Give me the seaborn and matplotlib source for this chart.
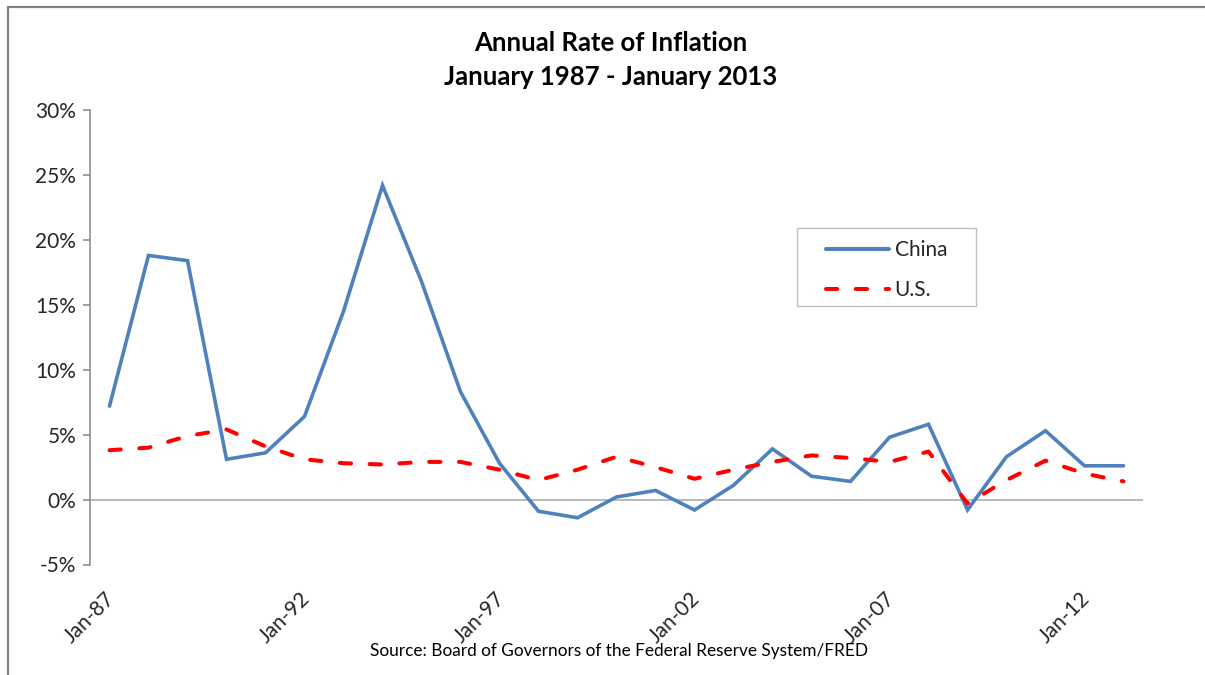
import matplotlib
matplotlib.use("Agg")
import matplotlib.pyplot as plt
import matplotlib.transforms as mtransforms
from matplotlib.lines import Line2D
from matplotlib.patches import Rectangle
import seaborn as sns
import pandas as pd

years = list(range(1987, 2014))
china = [7.2, 18.8, 18.4, 3.1, 3.6, 6.4, 14.5, 24.2, 16.8, 8.3, 2.8,
         -0.9, -1.4, 0.2, 0.7, -0.8, 1.1, 3.9, 1.8, 1.4, 4.8, 5.8,
         -0.8, 3.3, 5.3, 2.6, 2.6]
us = [3.8, 4.0, 4.9, 5.4, 4.1, 3.1, 2.8, 2.7, 2.9, 2.9, 2.3,
      1.5, 2.3, 3.3, 2.5, 1.6, 2.3, 2.9, 3.4, 3.2, 2.9, 3.7,
      -0.3, 1.5, 3.0, 2.0, 1.4]
tick_years = [1987, 1992, 1997, 2002, 2007, 2012]
tick_labels = ["Jan-87", "Jan-92", "Jan-97", "Jan-02", "Jan-07", "Jan-12"]
yticks = [-5, 0, 5, 10, 15, 20, 25, 30]
title_lines = ["Annual Rate of Inflation", "January 1987 - January 2013"]
source = "Source: Board of Governors of the Federal Reserve System/FRED"

sns.set_theme(style="white")
plt.rcParams["font.family"] = ["Lato", "DejaVu Sans"]

df = pd.DataFrame({"idx": range(len(years)), "year": years,
                   "China": china, "U.S.": us})

W, H = 1205, 675
fig = plt.figure(figsize=(12.05, 6.75), dpi=100)
ax = fig.add_axes([90/W, 1-564.5/H, (1143-90)/W, (564.5-110)/H])

blue = "#4F81BD"
red = "#FF0000"
dash = (0, (2.8, 4.6))
sns.lineplot(data=df, x="idx", y="China", ax=ax, color=blue, linewidth=2.6,
             solid_joinstyle="miter", solid_capstyle="round")
sns.lineplot(data=df, x="idx", y="U.S.", ax=ax, color=red, linewidth=2.9,
             linestyle=dash, dash_capstyle="round")

ax.axhline(0, color="#A6A6A6", linewidth=1.1, zorder=0)
ax.set_xlim(-0.5, len(years) - 0.5)
ax.set_ylim(-5, 30)
ax.set_yticks(yticks)
ax.set_yticklabels([f"{v}%" for v in yticks], fontsize=15, color="#262626")
ax.set_xlabel("")
ax.set_ylabel("")

ax.set_xticks([])
blend = mtransforms.blended_transform_factory(ax.transData, ax.transAxes)
offset = mtransforms.ScaledTranslation(0.02, -0.31, fig.dpi_scale_trans)
for yr, lab in zip(tick_years, tick_labels):
    ax.text(years.index(yr), 0, lab, transform=blend + offset, rotation=45,
            ha="right", va="center", rotation_mode="anchor", fontsize=15,
            color="#262626", clip_on=False)

for s in ["top", "right", "bottom"]:
    ax.spines[s].set_visible(False)
ax.spines["left"].set_color("#868686")
ax.spines["left"].set_linewidth(1.1)
ax.tick_params(axis="y", which="both", left=True, length=5, width=1.1,
               color="#868686", pad=5)

# legend
handles = [Line2D([], [], color=blue, linewidth=2.9, solid_capstyle="round"),
           Line2D([], [], color=red, linewidth=2.9, linestyle=dash,
                  dash_capstyle="round")]
leg = ax.legend(handles, ["China", "U.S."], loc="upper left",
                bbox_to_anchor=((826-90)/1053, 1-(240-110)/454.5),
                frameon=False, fontsize=15, handlelength=3.0,
                handletextpad=0.3, borderpad=0, labelspacing=0.95,
                borderaxespad=0)
for t in leg.get_texts():
    t.set_color("#262626")
fig.add_artist(Rectangle((797/W, 1-306/H), (976-797)/W, (306-228)/H,
                         transform=fig.transFigure, fill=False,
                         edgecolor="#BFBFBF", linewidth=1.0))

fig.text(611/W, 1-43/H, title_lines[0], ha="center", va="center",
         fontsize=18.5, fontweight="bold", color="black")
fig.text(611/W, 1-77/H, title_lines[1], ha="center", va="center",
         fontsize=18.5, fontweight="bold", color="black")
fig.text(619/W, 1-651/H, source, ha="center", va="center",
         fontsize=12.4, color="black")

# chart border
fig.add_artist(Line2D([8/W, 1], [1-6.5/H, 1-6.5/H],
                      transform=fig.transFigure, color="#808080", linewidth=1.6))
fig.add_artist(Line2D([8/W, 8/W], [0, 1-6.5/H],
                      transform=fig.transFigure, color="#808080", linewidth=1.6))

fig.savefig("out.png", dpi=100)
